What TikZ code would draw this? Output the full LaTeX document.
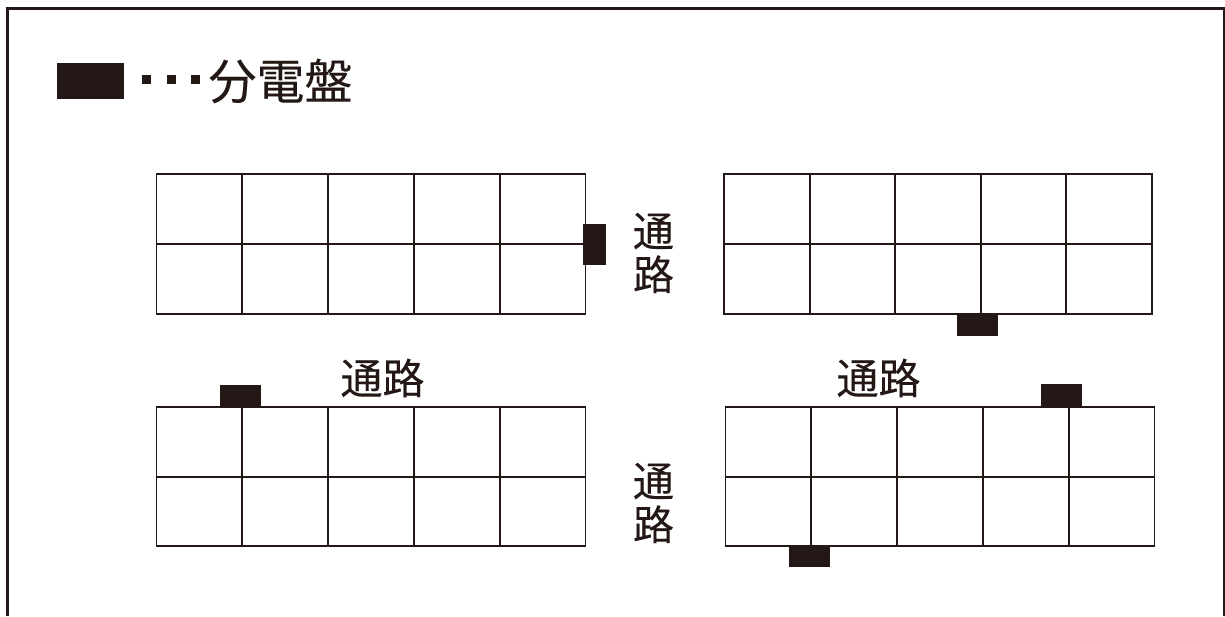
\documentclass[tikz,border=0pt]{standalone}
\usepackage{fontspec}
\setmainfont{Noto Sans CJK JP}[FakeBold=0.25]
\definecolor{ink}{HTML}{231815}
\tikzset{
  panel/.style={fill=ink,draw=none,inner sep=0pt,outer sep=0pt,anchor=north west},
  gridline/.style={draw=ink,line width=1.9pt,line cap=rect},
  framing/.style={draw=ink,line width=2.4pt},
  label/.style={text=ink,inner sep=0pt,outer sep=0pt,font=\fontsize{42}{42}\selectfont},
  vlabel/.style={label,align=center,font=\fontsize{41}{43.5}\selectfont},
  legendtext/.style={text=ink,inner sep=0pt,outer sep=0pt,font=\fontsize{48}{48}\selectfont}
}
\newcommand{\cellgrid}[5]{%
  \foreach \i in {0,...,5}{\draw[gridline] ({#1+\i*#2},-#3) -- ({#1+\i*#2},-#5);}
  \foreach \yy in {#3,#4,#5}{\draw[gridline] (#1,-\yy) -- ({#1+5*#2},-\yy);}
}
\begin{document}
\begin{tikzpicture}[x=1pt,y=1pt]
\useasboundingbox (0,0) rectangle (1225,-616);
\draw[framing] (7.5,-616) -- (7.5,-8.5) -- (1224.5,-8.5) -- (1224.5,-616);
% legend
\node[panel,minimum width=67pt,minimum height=36pt] (legendbox) at (57,-63) {};
\foreach \x in {142,166.5,191}{\fill[ink] (\x,-75) rectangle ++(9,-9);}
\node[legendtext,anchor=center] (legendname) at (280.5,-81) {分電盤};
% grids
\cellgrid{156.5}{85.8}{174}{244}{314}
\cellgrid{724}{85.6}{174}{244}{314}
\cellgrid{156.5}{85.8}{407}{477}{546}
\cellgrid{725.5}{85.8}{407}{477}{546}
% distribution boards
\node[panel,minimum width=23pt,minimum height=41pt] (boardA) at (583,-224) {};
\node[panel,minimum width=41pt,minimum height=22pt] (boardB) at (957,-314) {};
\node[panel,minimum width=41pt,minimum height=23pt] (boardC) at (220,-385) {};
\node[panel,minimum width=41pt,minimum height=23pt] (boardD) at (1041,-384) {};
\node[panel,minimum width=41pt,minimum height=22pt] (boardE) at (789,-545) {};
% aisle labels
\node[vlabel] (aisleA) at (653.5,-253) {通\\路};
\node[vlabel] (aisleB) at (653.5,-503) {通\\路};
\node[label] (aisleC) at (382.5,-378) {通路};
\node[label] (aisleD) at (878.5,-378) {通路};
\end{tikzpicture}
\end{document}
